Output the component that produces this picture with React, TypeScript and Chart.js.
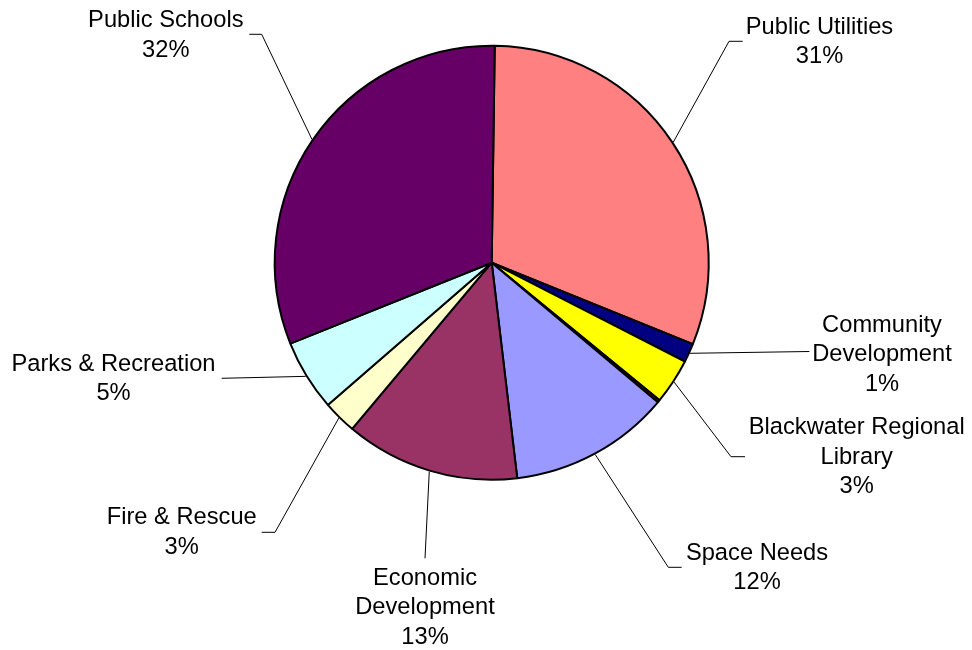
import React, { useEffect, useRef } from "react";
import { Chart, registerables } from "chart.js";

Chart.register(...registerables);

// ---- data ----
const CATEGORIES = [
  "Public Utilities",
  "Community Development",
  "Blackwater Regional Library",
  "Other",
  "Space Needs",
  "Economic Development",
  "Fire & Rescue",
  "Parks & Recreation",
  "Public Schools",
];
const SHARES = [30.9, 1.4, 3.4, 0.2, 12.0, 13.0, 2.5, 5.3, 31.3];
const PERCENT_LABELS = ["31%", "1%", "3%", "", "12%", "13%", "3%", "5%", "32%"];
const LABEL_LINES = [
  ["Public Utilities"],
  ["Community", "Development"],
  ["Blackwater Regional", "Library"],
  [],
  ["Space Needs"],
  ["Economic", "Development"],
  ["Fire & Rescue"],
  ["Parks & Recreation"],
  ["Public Schools"],
];
const COLORS = [
  "#FF8080",
  "#000080",
  "#FFFF00",
  "#800000",
  "#9999FF",
  "#993366",
  "#FFFFCC",
  "#CCFFFF",
  "#660066",
];

// ---- label layout (text block centre x, first baseline y, leader end, elbow x) ----
type Layout = { cx: number; by: number; ex: number; ey: number; kx: number } | null;
const LABEL_LAYOUT: Layout[] = [
  { cx: 819.5, by: 34, ex: 742.7, ey: 41.3, kx: 729 },
  { cx: 882, by: 331.7, ex: 809.3, ey: 351.5, kx: 809.3 },
  { cx: 856.7, by: 434.3, ex: 745, ey: 456.7, kx: 731 },
  null,
  { cx: 757, by: 560, ex: 681.7, ey: 567.3, kx: 668.3 },
  { cx: 425, by: 585, ex: 425, ey: 558.3, kx: 425 },
  { cx: 181.7, by: 524.3, ex: 261.7, ey: 532.3, kx: 275 },
  { cx: 113.5, by: 370.7, ex: 221.7, ey: 378.3, kx: 221.7 },
  { cx: 165.8, by: 27.3, ex: 249.3, ey: 34.3, kx: 261.7 },
];
const FONT = "23.7px 'Liberation Sans', Arial, sans-serif";
const LINE_H = 29.4;

const labelPlugin = {
  id: "outsideLabels",
  afterDatasetsDraw(chart: any) {
    const ctx = chart.ctx;
    const meta = chart.getDatasetMeta(0);
    ctx.save();
    meta.data.forEach((arc: any, i: number) => {
      const lay = LABEL_LAYOUT[i];
      if (!lay) return;
      const { x, y, startAngle, endAngle, outerRadius } = arc.getProps(
        ["x", "y", "startAngle", "endAngle", "outerRadius"],
        true
      );
      const mid = (startAngle + endAngle) / 2;
      const sx = x + Math.cos(mid) * (outerRadius + 1);
      const sy = y + Math.sin(mid) * (outerRadius + 1);
      ctx.beginPath();
      ctx.strokeStyle = "#000";
      ctx.lineWidth = 1;
      ctx.moveTo(sx, sy);
      ctx.lineTo(lay.kx, lay.ey);
      ctx.lineTo(lay.ex, lay.ey);
      ctx.stroke();

      ctx.fillStyle = "#000";
      ctx.font = FONT;
      ctx.textAlign = "center";
      ctx.textBaseline = "alphabetic";
      const lines = [...LABEL_LINES[i], PERCENT_LABELS[i]];
      lines.forEach((t, k) => {
        ctx.fillText(t, lay.cx, lay.by + k * LINE_H);
      });
    });
    ctx.restore();
  },
};

export default function App() {
  const ref = useRef<HTMLCanvasElement | null>(null);
  useEffect(() => {
    if (!ref.current) return;
    const chart = new Chart(ref.current, {
      type: "pie",
      data: {
        labels: CATEGORIES,
        datasets: [
          {
            data: SHARES,
            backgroundColor: COLORS,
            borderColor: "#000",
            borderWidth: 2,
            radius: 217,
          } as any,
        ],
      },
      options: {
        animation: false,
        responsive: false,
        devicePixelRatio: 1,
        rotation: 0.8,
        layout: { padding: { left: 40, right: 28.6, top: 20, bottom: 144.6 } },
        plugins: {
          legend: { display: false },
          tooltip: { enabled: false },
        },
      } as any,
      plugins: [labelPlugin],
    });
    return () => chart.destroy();
  }, []);
  return (
    <div style={{ position: "fixed", left: 0, top: 0, width: 972, height: 650, background: "#fff" }}>
      <canvas ref={ref} width={972} height={650} style={{ width: 972, height: 650 }} />
    </div>
  );
}
